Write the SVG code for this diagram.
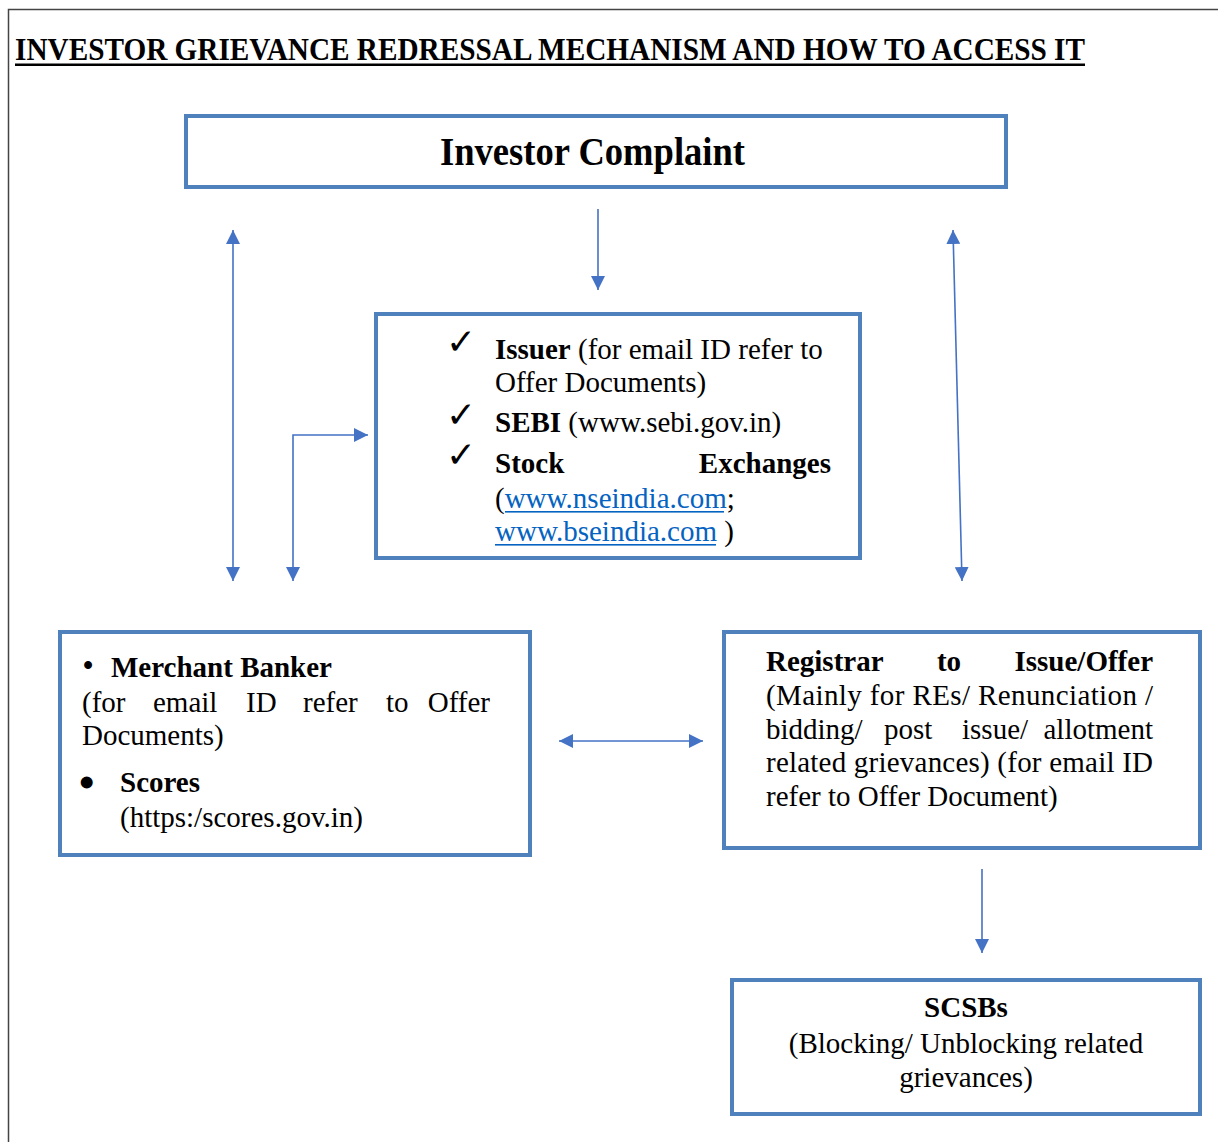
<svg xmlns="http://www.w3.org/2000/svg" width="1218" height="1142" viewBox="0 0 1218 1142">
<style>
.t{font-family:"Liberation Serif","Times New Roman",serif;font-size:29px;fill:#000}
.b{font-weight:bold}
.box{fill:#fff;stroke:#4F81BD;stroke-width:4}
.ln{fill:none;stroke:#4472C4;stroke-width:1.6}
.lk{fill:#0563C1}
.ck{font-family:"DejaVu Sans",sans-serif;font-size:36px;font-weight:bold;fill:#000}
</style>
<defs>
<marker id="ah" viewBox="0 0 14 14" markerWidth="14" markerHeight="14" refX="14" refY="7" orient="auto-start-reverse" markerUnits="userSpaceOnUse">
<path d="M0,0 L14,7 L0,14 z" fill="#4472C4"/>
</marker>
</defs>
<rect x="0" y="0" width="1218" height="1142" fill="#fff"/>
<path d="M8.5,1142 V9.5 H1218" fill="none" stroke="#444" stroke-width="1.5"/>
<g id="title">
<text class="t b" x="15" y="60" style="font-size:32px" textLength="1070" lengthAdjust="spacingAndGlyphs">INVESTOR GRIEVANCE REDRESSAL MECHANISM AND HOW TO ACCESS IT</text>
<rect x="15" y="63.5" width="1070" height="2.5" fill="#000"/>
</g>
<g id="connectors">
<line class="ln" x1="233" y1="230" x2="233" y2="581" marker-start="url(#ah)" marker-end="url(#ah)"/>
<path class="ln" d="M293,581 V435 H368" marker-start="url(#ah)" marker-end="url(#ah)"/>
<line class="ln" x1="598" y1="209" x2="598" y2="290" marker-end="url(#ah)"/>
<line class="ln" x1="953" y1="230" x2="962" y2="581" marker-start="url(#ah)" marker-end="url(#ah)"/>
<line class="ln" x1="559" y1="741" x2="703" y2="741" marker-start="url(#ah)" marker-end="url(#ah)"/>
<line class="ln" x1="982" y1="869" x2="982" y2="953" marker-end="url(#ah)"/>
</g>
<g id="investor-complaint">
<rect class="box" x="186" y="116" width="820" height="71"/>
<text class="t b" x="440" y="165" style="font-size:41px" textLength="305" lengthAdjust="spacingAndGlyphs">Investor Complaint</text>
</g>
<g id="issuer-sebi-exchanges">
<rect class="box" x="376" y="314" width="484" height="244"/>
<text class="ck" x="446" y="354">✓</text>
<text class="ck" x="446" y="427">✓</text>
<text class="ck" x="446" y="467">✓</text>
<text class="t" x="495" y="359"><tspan class="b">Issuer</tspan> (for email ID refer to</text>
<text class="t" x="495" y="392">Offer Documents)</text>
<text class="t" x="495" y="432"><tspan class="b">SEBI</tspan> (www.sebi.gov.in)</text>
<text class="t b" x="495" y="473">Stock</text>
<text class="t b" x="831" y="473" text-anchor="end">Exchanges</text>
<text class="t" x="495" y="508">(<tspan class="lk">www.nseindia.com</tspan>;</text>
<rect x="505" y="511" width="219" height="1.6" fill="#0563C1"/>
<text class="t" x="495" y="541"><tspan class="lk">www.bseindia.com</tspan> )</text>
<rect x="495" y="544" width="221" height="1.6" fill="#0563C1"/>
</g>
<g id="merchant-banker-scores">
<rect class="box" x="60" y="632" width="470" height="223"/>
<text class="t b" x="83" y="675">•</text>
<text class="t b" x="111" y="677">Merchant Banker</text>
<text class="t" x="82" y="712">(for</text>
<text class="t" x="153" y="712">email</text>
<text class="t" x="246" y="712">ID</text>
<text class="t" x="303" y="712">refer</text>
<text class="t" x="386" y="712">to</text>
<text class="t" x="490" y="712" text-anchor="end">Offer</text>
<text class="t" x="82" y="745">Documents)</text>
<text class="t b" x="79" y="797" style="font-size:44px">•</text>
<text class="t b" x="120" y="792">Scores</text>
<text class="t" x="120" y="827">(https:/scores.gov.in)</text>
</g>
<g id="registrar">
<rect class="box" x="724" y="632" width="476" height="216"/>
<text class="t b" x="766" y="671">Registrar</text>
<text class="t b" x="949" y="671" text-anchor="middle">to</text>
<text class="t b" x="1153" y="671" text-anchor="end">Issue/Offer</text>
<text class="t" x="766" y="705" textLength="387" lengthAdjust="spacing">(Mainly for REs/ Renunciation /</text>
<text class="t" x="766" y="739">bidding/</text>
<text class="t" x="884" y="739">post</text>
<text class="t" x="962" y="739">issue/</text>
<text class="t" x="1153" y="739" text-anchor="end">allotment</text>
<text class="t" x="766" y="772" textLength="387" lengthAdjust="spacing">related grievances) (for email ID</text>
<text class="t" x="766" y="806">refer to Offer Document)</text>
</g>
<g id="scsbs">
<rect class="box" x="732" y="980" width="468" height="134"/>
<text class="t b" x="966" y="1017" text-anchor="middle">SCSBs</text>
<text class="t" x="966" y="1053" text-anchor="middle">(Blocking/ Unblocking related</text>
<text class="t" x="966" y="1087" text-anchor="middle">grievances)</text>
</g>
</svg>
